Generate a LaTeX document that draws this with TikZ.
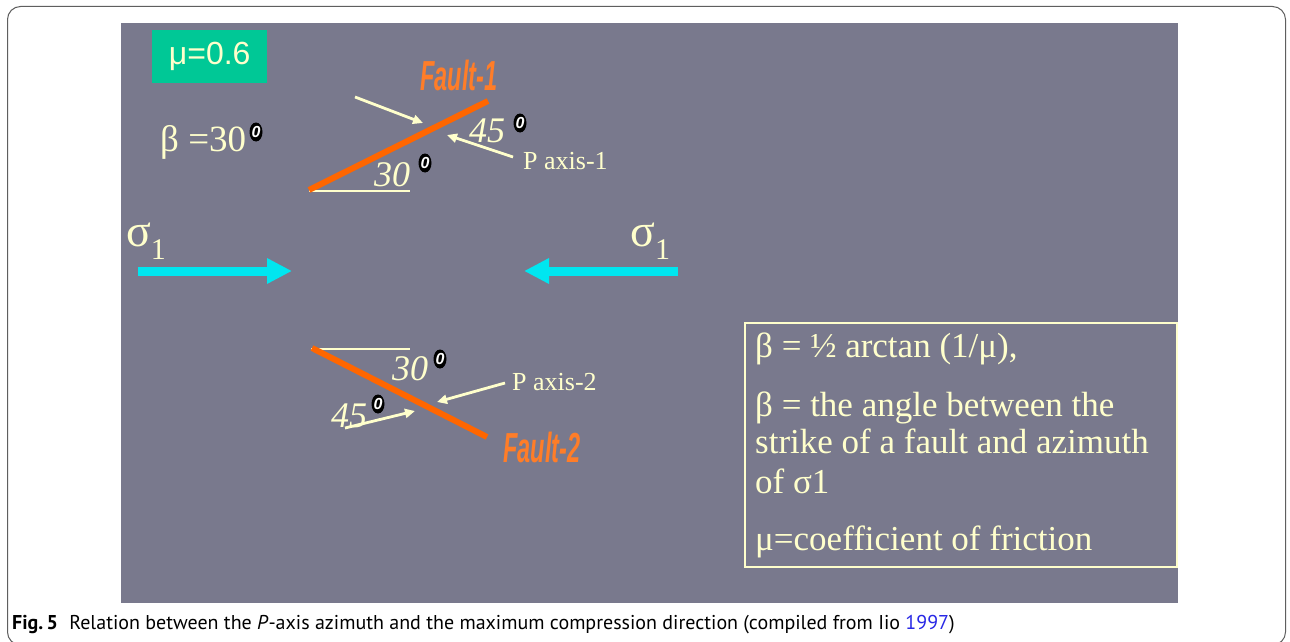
\documentclass[tikz,border=0pt]{standalone}
\usepackage{fontspec}
\setmainfont{Liberation Serif}
\newfontfamily\capfont{PT Sans}
\newfontfamily\faultfont{Liberation Sans}[FakeStretch=0.56]
\newfontfamily\arialfont{Liberation Sans}
\usetikzlibrary{arrows.meta,shapes.geometric}
\definecolor{panel}{RGB}{121,121,141}
\definecolor{cream}{RGB}{255,255,204}
\definecolor{mugreen}{RGB}{0,200,150}
\definecolor{faultorange}{RGB}{255,102,0}
\definecolor{faultlab}{RGB}{255,125,40}
\definecolor{sigcyan}{RGB}{0,230,240}
\definecolor{linkblue}{RGB}{40,40,230}
\definecolor{framegray}{RGB}{95,95,95}
\begin{document}
\begin{tikzpicture}[x=1pt,y=-1pt,
  slidetext/.style={text=cream, inner sep=0pt, anchor=base west},
  degmark/.style={ellipse, fill=black, inner sep=0pt, minimum width=13pt, minimum height=19pt, text=white, font=\arialfont\bfseries\itshape\fontsize{16}{16}\selectfont},
  pointer/.style={cream, line width=2.8pt, -{Triangle[length=10pt,width=9pt]}},
  faultline/.style={faultorange, line width=6pt},
  refline/.style={cream, line width=1.8pt},
  sigarrow/.style={sigcyan, line width=9pt, -{Triangle[length=25pt,width=24pt]}},
  faultlabel/.style={text=faultlab, inner sep=0pt, anchor=base west, font=\faultfont\bfseries\itshape\fontsize{42}{42}\selectfont},
  angletext/.style={slidetext, font=\itshape\fontsize{36}{36}\selectfont},
  axistext/.style={slidetext, font=\fontsize{26}{26}\selectfont},
  boxtext/.style={slidetext, font=\fontsize{35}{35}\selectfont},
]
\useasboundingbox (0,0) rectangle (1290,642);
\fill[white] (0,0) rectangle (1290,642);
\draw[framegray, line width=1pt, rounded corners=13pt] (7.5,6.5) rectangle (1285.5,645);
% slide panel
\fill[panel] (121,23) rectangle (1178,603);
% mu box
\node[fill=mugreen, text=cream, anchor=north west, minimum width=115pt, minimum height=53pt, inner sep=0pt,
      font=\arialfont\fontsize{32}{32}\selectfont] (mu) at (152,30) {μ=0.6};
% beta
\node[slidetext, font=\fontsize{37}{37}\selectfont] (beta) at (160,151) {β =30};
\node[degmark] (dbeta) at (256,132) {0};
% sigma labels
\node[slidetext, font=\fontsize{46}{46}\selectfont] (sigL) at (126,246) {σ\raisebox{-13pt}{\fontsize{30}{30}\selectfont 1}};
\node[slidetext, font=\fontsize{46}{46}\selectfont] (sigR) at (630,246) {σ\raisebox{-13pt}{\fontsize{30}{30}\selectfont 1}};
% sigma arrows
\coordinate (sLa) at (138,271);
\coordinate (sLb) at (292,271);
\coordinate (sRa) at (678,271);
\coordinate (sRb) at (524,271);
\draw[sigarrow] (sLa) -- (sLb);
\draw[sigarrow] (sRa) -- (sRb);
% fault 1
\coordinate (f1a) at (309,190);
\coordinate (f1b) at (488,101);
\coordinate (r1a) at (309,191);
\coordinate (r1b) at (410,191);
\draw[refline] (r1a) -- (r1b);
\draw[faultline] (f1a) -- (f1b);
\node[faultlabel] (fl1) at (420,90) {Fault-1};
\node[angletext] (a30t) at (374,186) {30};
\node[degmark] (d30t) at (425,163) {0};
\node[angletext] (a45t) at (469,142) {45};
\node[degmark] (d45t) at (520,123) {0};
\node[axistext] (pax1) at (523,169) {P axis-1};
\coordinate (p1a) at (355,97);
\coordinate (p1b) at (423,123);
\coordinate (p2a) at (513,157);
\coordinate (p2b) at (447,135);
\draw[pointer] (p1a) -- (p1b);
\draw[pointer] (p2a) -- (p2b);
% fault 2
\coordinate (f2a) at (312,348);
\coordinate (f2b) at (487,437);
\coordinate (r2a) at (311,349);
\coordinate (r2b) at (410,349);
\draw[refline] (r2a) -- (r2b);
\draw[faultline] (f2a) -- (f2b);
\node[faultlabel] (fl2) at (503,462) {Fault-2};
\node[angletext] (a30b) at (392,380) {30};
\node[degmark] (d30b) at (440,359) {0};
\node[angletext] (a45b) at (331,427) {45};
\node[degmark] (d45b) at (378,404) {0};
\node[axistext] (pax2) at (512,390) {P axis-2};
\coordinate (q1a) at (505,383);
\coordinate (q1b) at (437,402);
\coordinate (q2a) at (345,428);
\coordinate (q2b) at (415,411);
\draw[pointer] (q1a) -- (q1b);
\draw[pointer] (q2a) -- (q2b);
% definition box
\draw[cream, line width=1.5pt] (745,323) rectangle (1177,567);
\node[boxtext] (l1) at (755,357) {β = ½ arctan (1/μ),};
\node[boxtext] (l2) at (755,416) {β = the angle between the};
\node[boxtext] (l3) at (755,453) {strike of a fault and azimuth};
\node[boxtext] (l4) at (755,493) {of σ1};
\node[boxtext] (l5) at (755,550) {μ=coefficient of friction};
% caption
\node[anchor=base west, inner sep=0pt, font=\capfont\fontsize{20}{20}\selectfont] (cap) at (12,629)
  {\textbf{Fig.\,5}\hspace{6pt} Relation between the \textit{P}-axis azimuth and the maximum compression direction (compiled from Iio \textcolor{linkblue}{1997})};
\end{tikzpicture}
\end{document}
